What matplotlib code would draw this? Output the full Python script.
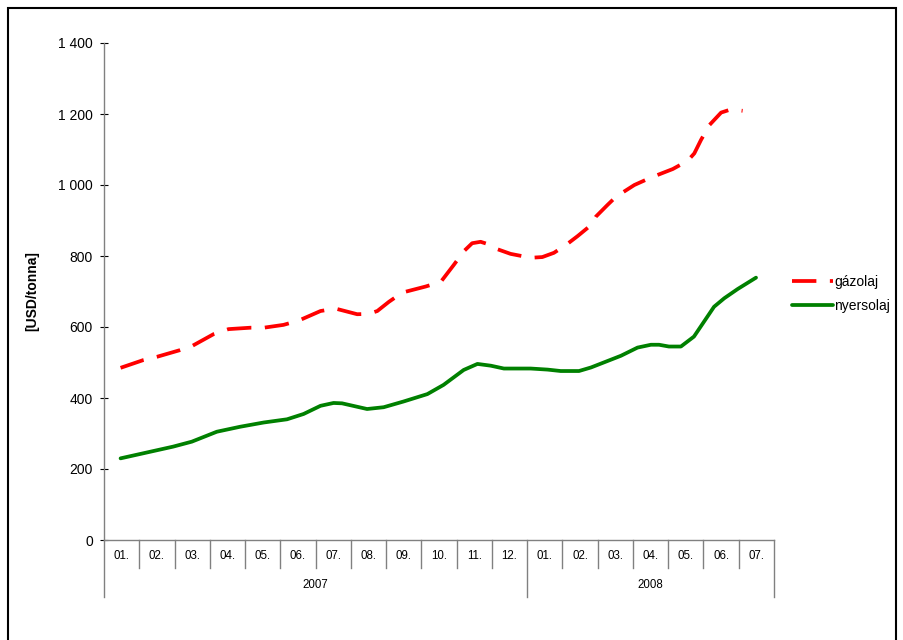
import matplotlib
matplotlib.use("Agg")
import matplotlib.pyplot as plt
from matplotlib.patches import Rectangle
import matplotlib.transforms as mtransforms

plt.rcParams['font.family'] = ['Liberation Sans', 'DejaVu Sans']

months = ["01.", "02.", "03.", "04.", "05.", "06.", "07.", "08.", "09.", "10.", "11.", "12.",
          "01.", "02.", "03.", "04.", "05.", "06.", "07."]
years = ["2007", "2008"]
year_months = [12, 7]

# x positions in month units (0 = start of 2007-01)
gazolaj_x = [0.47, 1.12, 1.50, 2.16, 2.49, 3.11, 3.53, 4.15, 4.53, 5.09, 5.52, 6.14, 6.56,
             7.18, 7.51, 7.75, 8.08, 8.46, 9.12, 9.55, 9.92, 10.21, 10.44, 10.68, 10.87,
             11.16, 11.53, 12.10, 12.43, 12.76, 13.10, 13.43, 13.81, 13.95, 14.28, 14.52,
             15.04, 15.51, 16.13, 16.55, 16.74, 16.93, 17.17, 17.50, 17.78, 18.11]
gazolaj = [485, 507, 516, 535, 546, 580, 594, 598, 598, 606, 618, 645, 652,
           636, 637, 645, 671, 697, 714, 727, 775, 814, 836, 840, 834,
           819, 806, 795, 797, 809, 831, 856, 887, 911, 944, 967,
           1000, 1021, 1045, 1068, 1089, 1127, 1169, 1204, 1213, 1209]

nyersolaj_x = [0.47, 1.96, 2.49, 3.20, 3.86, 4.53, 5.19, 5.66, 6.14, 6.51, 6.75, 7.46, 7.93,
               8.49, 9.17, 9.63, 10.20, 10.59, 10.97, 11.34, 12.10, 12.58, 12.95, 13.47,
               13.81, 14.66, 15.13, 15.51, 15.74, 16.02, 16.36, 16.73, 17.30, 17.59, 17.97, 18.49]
nyersolaj = [230, 263, 277, 305, 319, 331, 340, 355, 378, 386, 385, 369, 374,
             390, 411, 437, 479, 496, 491, 483, 483, 480, 476, 476,
             486, 519, 542, 550, 550, 545, 545, 573, 657, 681, 707, 739]

yticks = [0, 200, 400, 600, 800, 1000, 1200, 1400]
ytick_labels = ["0", "200", "400", "600", "800", "1 000", "1 200", "1 400"]

W, H = 904, 640
fig = plt.figure(figsize=(W / 100, H / 100), dpi=100)
ax = fig.add_axes([104 / W, 1 - 540 / H, (774 - 104) / W, (540 - 43) / H])

ax.plot(gazolaj_x, gazolaj, color="#FF0000", lw=2.7, dashes=(6.5, 3.6),
        solid_joinstyle="round", label="gázolaj")
ax.plot(nyersolaj_x, nyersolaj, color="#008000", lw=2.7,
        solid_joinstyle="round", solid_capstyle="round", label="nyersolaj")

n = len(months)
ax.set_xlim(0, n)
ax.set_ylim(0, 1400)
ax.set_yticks(yticks)
ax.set_yticklabels(ytick_labels, fontsize=10)
ax.set_xticks([])
for s in ["top", "right"]:
    ax.spines[s].set_visible(False)
for s in ["left", "bottom"]:
    ax.spines[s].set_color("#808080")
    ax.spines[s].set_linewidth(1.0)
ax.tick_params(axis="y", direction="inout", length=6, width=0.8, color="#000000", pad=5)
ax.set_ylabel("[USD/tonna]", fontsize=10, fontweight="bold")
ax.yaxis.set_label_coords(-0.097, 0.5)

# category axis: separators and labels
trans = mtransforms.blended_transform_factory(ax.transData, ax.transAxes)
ph = 1.0 / (540 - 43)  # one pixel in axes fraction (vertical)
bounds_full = [0]
acc = 0
for ym in year_months:
    acc += ym
    bounds_full.append(acc)
for i in range(n + 1):
    if i in bounds_full:
        y0 = -57 * ph
    else:
        y0 = -28 * ph
    ax.plot([i, i], [0, y0], transform=trans, color="#808080", lw=1.0, clip_on=False)
for i, m in enumerate(months):
    ax.text(i + 0.5, -16 * ph, m, transform=trans, ha="center", va="center", fontsize=8.3)
for j, y in enumerate(years):
    c = (bounds_full[j] + bounds_full[j + 1]) / 2
    ax.text(c, -45 * ph, y, transform=trans, ha="center", va="center", fontsize=8.3)

fig.legend(loc="upper left", bbox_to_anchor=(786 / W, 1 - 269 / H), frameon=False,
           fontsize=10, handlelength=3.0, handletextpad=0.05, labelspacing=0.75,
           borderaxespad=0)

fig.patches.append(Rectangle((8 / W, -0.1), (896 - 8) / W, 1.1 - 8 / H, transform=fig.transFigure,
                             fill=False, edgecolor="black", lw=1.5))

fig.savefig("out.png", dpi=100)
